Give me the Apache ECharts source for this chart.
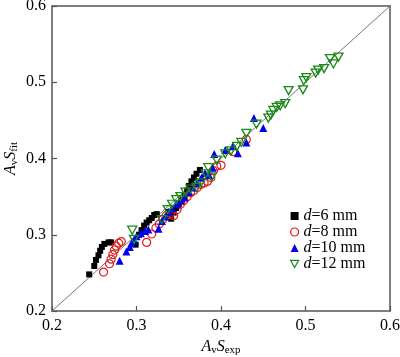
<!DOCTYPE html>
<html><head><meta charset="utf-8">
<script src="https://cdn.jsdelivr.net/npm/echarts@6/dist/echarts.min.js"></script>
<style>html,body{margin:0;padding:0;background:#fff}#c{width:400px;height:357px}</style>
</head><body><div id="c"></div>
<script>
const xTicks = [0.2, 0.3, 0.4, 0.5, 0.6];
const yTicks = [0.2, 0.3, 0.4, 0.5, 0.6];
const seriesNames = ['d=6 mm', 'd=8 mm', 'd=10 mm', 'd=12 mm'];
const refLine = [[0.2, 0.2], [0.6, 0.6]];
const d6 = [[0.244,0.248],[0.250,0.259],[0.252,0.267],[0.255,0.273],[0.257,0.279],[0.259,0.284],[0.262,0.288],[0.267,0.290],[0.270,0.290],[0.299,0.287],[0.303,0.300],[0.306,0.306],[0.309,0.312],[0.312,0.316],[0.315,0.319],[0.318,0.322],[0.321,0.326],[0.324,0.327],[0.338,0.330],[0.341,0.321],[0.344,0.329],[0.347,0.335],[0.350,0.340],[0.354,0.345],[0.357,0.352],[0.360,0.358],[0.362,0.364],[0.365,0.370],[0.368,0.375],[0.371,0.380],[0.375,0.385]];
const d8 = [[0.261,0.251],[0.268,0.262],[0.270,0.268],[0.272,0.274],[0.274,0.280],[0.276,0.285],[0.279,0.289],[0.282,0.291],[0.312,0.290],[0.318,0.301],[0.323,0.309],[0.327,0.314],[0.331,0.320],[0.335,0.325],[0.340,0.327],[0.344,0.325],[0.348,0.333],[0.352,0.340],[0.356,0.345],[0.360,0.350],[0.364,0.355],[0.368,0.358],[0.372,0.362],[0.376,0.366],[0.380,0.368],[0.384,0.370],[0.388,0.375],[0.391,0.384],[0.395,0.390],[0.400,0.391],[0.414,0.409],[0.430,0.425]];
const d10 = [[0.280,0.266],[0.288,0.278],[0.292,0.284],[0.294,0.289],[0.297,0.293],[0.300,0.298],[0.305,0.302],[0.310,0.305],[0.314,0.307],[0.326,0.308],[0.330,0.318],[0.334,0.324],[0.338,0.330],[0.342,0.335],[0.348,0.340],[0.352,0.345],[0.357,0.349],[0.362,0.356],[0.367,0.362],[0.372,0.368],[0.377,0.375],[0.381,0.381],[0.386,0.378],[0.390,0.388],[0.392,0.406],[0.405,0.411],[0.414,0.416],[0.420,0.407],[0.430,0.421],[0.439,0.453],[0.450,0.440]];
const d12 = [[0.295,0.306],[0.297,0.294],[0.330,0.320],[0.337,0.333],[0.342,0.340],[0.347,0.346],[0.352,0.350],[0.358,0.356],[0.364,0.360],[0.371,0.362],[0.376,0.368],[0.382,0.380],[0.385,0.388],[0.389,0.376],[0.395,0.398],[0.405,0.406],[0.412,0.410],[0.419,0.416],[0.424,0.421],[0.430,0.433],[0.442,0.445],[0.456,0.453],[0.459,0.457],[0.462,0.463],[0.466,0.467],[0.470,0.469],[0.476,0.472],[0.480,0.489],[0.497,0.490],[0.498,0.502],[0.501,0.506],[0.512,0.512],[0.515,0.516],[0.522,0.518],[0.529,0.531],[0.533,0.524],[0.539,0.533]];

const FONT = '"Liberation Serif", "Times New Roman", serif';
const axisColor = '#555';
const triDown = 'path://M0,0 L10,0 L5,9 Z';
const chart = echarts.init(document.getElementById('c'), null, {renderer: 'canvas'});
const nameRich = {
  it: {fontFamily: FONT, fontStyle: 'italic', fontSize: 16, color: '#000'},
  sub: {fontFamily: FONT, fontSize: 11, color: '#000', verticalAlign: 'bottom', padding: [8, 0, 0, 0]}
};
const baseAxis = (ticks, pos) => ({
  type: 'value', min: ticks[0], max: ticks[ticks.length - 1], interval: 0.1,
  position: pos,
  axisLine: {show: true, lineStyle: {color: axisColor, width: 1.5}},
  axisTick: {show: true, inside: true, length: 5, lineStyle: {color: axisColor, width: 1.2}},
  splitLine: {show: false},
  axisLabel: {show: true, fontFamily: FONT, fontSize: 16, color: '#000', formatter: v => v.toFixed(1)}
});
const xMain = Object.assign(baseAxis(xTicks, 'bottom'), {
  name: '{it|A}{sub|v}{it|S}{sub|exp}', nameLocation: 'middle', nameGap: 26, nameMoveOverlap: false,
  nameTextStyle: {rich: nameRich}
});
xMain.axisLabel.margin = 7;
const yMain = Object.assign(baseAxis(yTicks, 'left'), {
  name: '{it|A}{sub|v}{it|S}{sub|fit}', nameLocation: 'middle', nameGap: 32, nameMoveOverlap: false,
  nameTextStyle: {rich: nameRich}
});
yMain.axisLabel.margin = 6;
const xTop = Object.assign(baseAxis(xTicks, 'top'), {axisTick: {show: false}, axisLabel: {show: false}});
const yRight = Object.assign(baseAxis(yTicks, 'right'), {axisTick: {show: false}, axisLabel: {show: false}});

chart.setOption({
  animation: false,
  grid: {left: 52, right: 10, top: 6, bottom: 46, containLabel: false, outerBoundsMode: 'none'},
  xAxis: [xMain, xTop],
  yAxis: [yMain, yRight],
  legend: {
    left: 285, top: 203, orient: 'vertical', itemGap: 0, itemWidth: 8, itemHeight: 8,
    data: [
      {name: seriesNames[0], icon: 'rect', itemStyle: {color: '#000'}},
      {name: seriesNames[1], icon: 'circle', itemStyle: {color: 'rgba(255,255,255,0)', borderColor: '#e02020', borderWidth: 1.2}},
      {name: seriesNames[2], icon: 'triangle', itemStyle: {color: '#0000ee'}},
      {name: seriesNames[3], icon: triDown, itemStyle: {color: 'rgba(255,255,255,0)', borderColor: '#1a8a1a', borderWidth: 1.2}}
    ],
    formatter: n => '{it|d}' + n.slice(1),
    textStyle: {fontFamily: FONT, fontSize: 16, color: '#000', padding: [0, 0, 0, 0],
      rich: {it: {fontFamily: FONT, fontStyle: 'italic', fontSize: 16, color: '#000'}}}
  },
  series: [
    {type: 'line', data: refLine, symbol: 'none', silent: true,
      lineStyle: {color: '#777', width: 1}, z: 1},
    {name: seriesNames[0], type: 'scatter', data: d6, symbol: 'rect', symbolSize: 6,
      itemStyle: {color: '#000', opacity: 1}},
    {name: seriesNames[1], type: 'scatter', data: d8, symbol: 'circle', symbolSize: 8,
      itemStyle: {color: 'rgba(255,255,255,0)', borderColor: '#e02020', borderWidth: 1.2, opacity: 1}},
    {name: seriesNames[2], type: 'scatter', data: d10, symbol: 'triangle', symbolSize: 8,
      itemStyle: {color: '#0000ee', opacity: 1}},
    {name: seriesNames[3], type: 'scatter', data: d12, symbol: triDown, symbolSize: [9, 8],
      itemStyle: {color: 'rgba(255,255,255,0)', borderColor: '#1a8a1a', borderWidth: 1.3, opacity: 1}}
  ]
});
</script></body></html>
